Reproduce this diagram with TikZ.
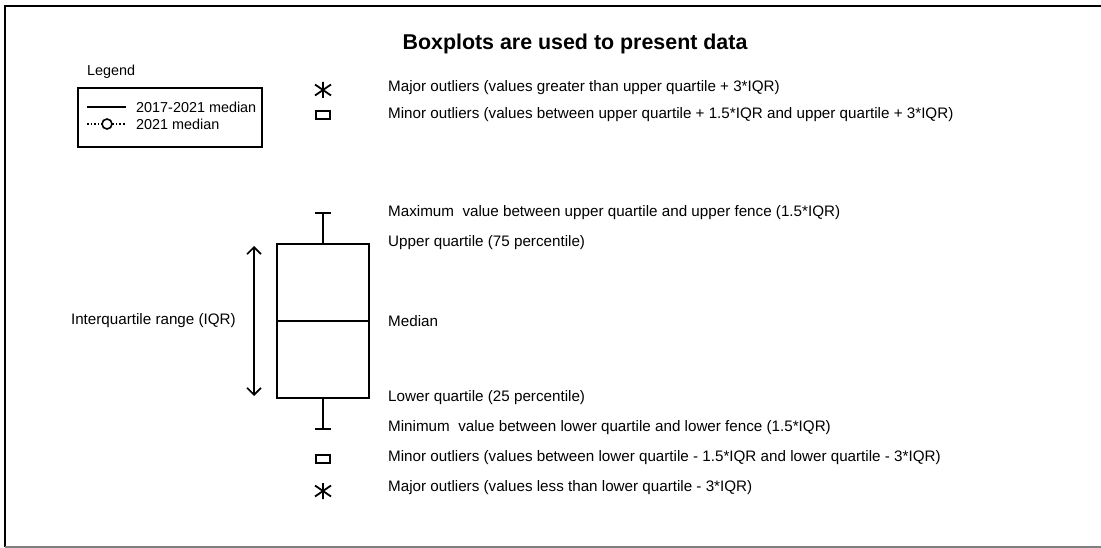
\documentclass[tikz,border=0pt]{standalone}
\usepackage{fontspec}
\setmainfont{Liberation Sans}
\usetikzlibrary{arrows.meta}
\tikzset{
  lbl/.style={anchor=west, inner sep=0pt, font=\fontsize{15.2}{18}\selectfont},
  leglbl/.style={anchor=west, inner sep=0pt, font=\fontsize{14.4}{17}\selectfont},
  minorbox/.style={draw, line width=1.8pt, minimum width=14pt, minimum height=8pt, inner sep=0pt},
  thickline/.style={line width=1.6pt},
}
\newcommand{\majorstar}[1]{\draw[line width=1.8pt, shift={(#1)}] (0,-8)--(0,8) (-8,-5.5)--(8,5.5) (-8,5.5)--(8,-5.5);}
\begin{document}
\begin{tikzpicture}[x=1pt, y=-1pt]
\useasboundingbox (0,0) rectangle (1101,548);
% frame
\draw[thickline] (1102,6) -- (5,6) -- (5,547);
\draw[thickline, gray] (5,547) -- (1102,547);
\node[font=\fontsize{21.4}{25}\selectfont\bfseries] (title) at (575,44) {Boxplots are used to present data};
% legend
\node[leglbl] (legend) at (87,72) {Legend};
\node[draw, thickline, minimum width=184pt, minimum height=59pt, inner sep=0pt] (legbox) at (170,117.5) {};
\coordinate (solA) at (87,107);
\coordinate (solB) at (126,107);
\coordinate (dotA) at (87,124);
\coordinate (dotB) at (126,124);
\draw[thickline] (solA) -- (solB);
\draw[thickline, dotted] (dotA) -- (dotB);
\node[circle, draw, thickline, fill=white, minimum size=10pt, inner sep=0pt] (dotmark) at (107,124) {};
\node[leglbl] (leg1) at (136,107) {2017-2021 median};
\node[leglbl] (leg2) at (136,124) {2021 median};
% outlier markers
\coordinate (starU) at (323,90);
\coordinate (starL) at (323,491);
\majorstar{starU}
\majorstar{starL}
\node[minorbox] (minU) at (323,115) {};
\node[minorbox] (minL) at (323,459) {};
% box and whiskers
\node[draw, thickline, minimum width=92pt, minimum height=154pt, inner sep=0pt] (box) at (323,321) {};
\draw[line width=1.8pt] (box.west) -- (box.east);
\coordinate (capU) at (323,213);
\coordinate (capL) at (323,429);
\draw[thickline] (box.north) -- (capU);
\draw[thickline] (box.south) -- (capL);
\draw[thickline] ([xshift=-8pt]capU) -- ([xshift=8pt]capU);
\draw[thickline] ([xshift=-8pt]capL) -- ([xshift=8pt]capL);
% IQR arrow
\coordinate (iqrtop) at (254,246);
\coordinate (iqrbot) at (254,396);
\draw[thickline, {Straight Barb[length=7pt, width=14pt]}-{Straight Barb[length=7pt, width=14pt]}] (iqrtop) -- (iqrbot);
\node[lbl, anchor=east] (iqr) at (236,321) {Interquartile range (IQR)};
% labels
\node[lbl] (majU) at (388,88) {Major outliers (values greater than upper quartile + 3*IQR)};
\node[lbl] (minUl) at (388,115) {Minor outliers (values between upper quartile + 1.5*IQR and upper quartile + 3*IQR)};
\node[lbl] (maxv) at (388,213) {Maximum~ value between upper quartile and upper fence (1.5*IQR)};
\node[lbl] (uq) at (388,243) {Upper quartile (75 percentile)};
\node[lbl] (med) at (388,321) {Median};
\node[lbl] (lq) at (388,398) {Lower quartile (25 percentile)};
\node[lbl] (minv) at (388,428) {Minimum~ value between lower quartile and lower fence (1.5*IQR)};
\node[lbl] (minLl) at (388,458) {Minor outliers (values between lower quartile - 1.5*IQR and lower quartile - 3*IQR)};
\node[lbl] (majL) at (388,488) {Major outliers (values less than lower quartile - 3*IQR)};
\end{tikzpicture}
\end{document}
